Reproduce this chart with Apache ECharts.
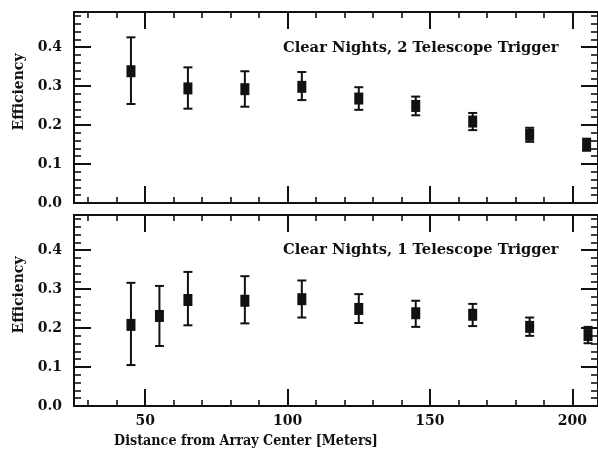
<!DOCTYPE html>
<html>
<head>
<meta charset="utf-8">
<script src="https://cdn.jsdelivr.net/npm/echarts@6/dist/echarts.min.js"></script>
<style>html,body{margin:0;padding:0;background:#fff;}#c{width:598px;height:449px;}</style>
</head>
<body>
<div id="c"></div>
<script>
// ---- data ----
const xTop  = [45, 65, 85, 105, 125, 145, 165, 185, 205];
const yTop  = [0.338, 0.294, 0.292, 0.298, 0.268, 0.249, 0.209, 0.175, 0.149];
const loTop = [0.254, 0.242, 0.247, 0.264, 0.239, 0.225, 0.187, 0.157, 0.134];
const hiTop = [0.425, 0.348, 0.338, 0.336, 0.297, 0.273, 0.231, 0.193, 0.165];

const xBot  = [45, 55, 65, 85, 105, 125, 145, 165, 185, 205.5];
const yBot  = [0.208, 0.231, 0.272, 0.270, 0.274, 0.249, 0.238, 0.234, 0.203, 0.182];
const loBot = [0.105, 0.154, 0.207, 0.212, 0.227, 0.213, 0.203, 0.205, 0.180, 0.161];
const hiBot = [0.316, 0.308, 0.344, 0.333, 0.322, 0.287, 0.270, 0.262, 0.227, 0.203];

const xMajor = [50, 100, 150, 200];
const xMinor = [30, 40, 60, 70, 80, 90, 110, 120, 130, 140, 160, 170, 180, 190];
const yMajor = [0.0, 0.1, 0.2, 0.3, 0.4];
const yMinor = [0.02,0.04,0.06,0.08,0.12,0.14,0.16,0.18,0.22,0.24,0.26,0.28,0.32,0.34,0.36,0.38,0.42,0.44,0.46,0.48];

const titleTop = 'Clear Nights, 2 Telescope Trigger';
const titleBot = 'Clear Nights, 1 Telescope Trigger';
const yName = 'Efficiency';
const xName = 'Distance from Array Center [Meters]';

// ---- chart ----
const FONT = 'DejaVu Serif';
const INK = '#111';
const chart = echarts.init(document.getElementById('c'), null, {renderer: 'canvas'});

const X_MIN = 25, X_MAX = 209, Y_MIN = 0, Y_MAX = 0.49;

function xAx(grid, pos, major, labels) {
  return {
    type: 'value', gridIndex: grid, position: pos, min: X_MIN, max: X_MAX,
    splitLine: {show: false},
    axisLine: {show: true, onZero: false, lineStyle: {color: INK, width: 2}},
    axisTick: {show: true, inside: true, length: major ? 17 : 6,
      customValues: major ? xMajor : xMinor, lineStyle: {color: INK, width: major ? 2 : 1.6}},
    axisLabel: labels ? {show: true, customValues: xMajor, margin: 8,
      color: INK, fontFamily: FONT, fontWeight: 'bold', fontSize: 14,
      formatter: v => String(Math.round(v))} : {show: false}
  };
}
function yAx(grid, pos, major, labels) {
  return {
    type: 'value', gridIndex: grid, position: pos, min: Y_MIN, max: Y_MAX,
    splitLine: {show: false},
    axisLine: {show: true, onZero: false, lineStyle: {color: INK, width: 2}},
    axisTick: {show: true, inside: true, length: major ? 17 : 7,
      customValues: major ? yMajor : yMinor, lineStyle: {color: INK, width: major ? 2 : 1.6}},
    axisLabel: labels ? {show: true, customValues: yMajor, margin: 12,
      color: INK, fontFamily: FONT, fontWeight: 'bold', fontSize: 14,
      formatter: v => v.toFixed(1)} : {show: false}
  };
}

const xAxes = [
  xAx(0, 'bottom', true, false), xAx(0, 'bottom', false, false),
  xAx(0, 'top', true, false),    xAx(0, 'top', false, false),
  xAx(1, 'bottom', true, true),  xAx(1, 'bottom', false, false),
  xAx(1, 'top', true, false),    xAx(1, 'top', false, false)
];
const yAxes = [
  yAx(0, 'left', true, true),   yAx(0, 'left', false, false),
  yAx(0, 'right', true, false), yAx(0, 'right', false, false),
  yAx(1, 'left', true, true),   yAx(1, 'left', false, false),
  yAx(1, 'right', true, false), yAx(1, 'right', false, false)
];

function errData(xs, lo, hi) { return xs.map((x, i) => [x, lo[i], hi[i]]); }
function ptData(xs, ys) { return xs.map((x, i) => [x, ys[i]]); }

function errRender(params, api) {
  const x = api.value(0);
  const p1 = api.coord([x, api.value(1)]);
  const p2 = api.coord([x, api.value(2)]);
  const hw = 4.5;
  const st = {stroke: INK, lineWidth: 2};
  return {type: 'group', children: [
    {type: 'line', shape: {x1: p1[0], y1: p1[1], x2: p2[0], y2: p2[1]}, style: st},
    {type: 'line', shape: {x1: p1[0]-hw, y1: p1[1], x2: p1[0]+hw, y2: p1[1]}, style: st},
    {type: 'line', shape: {x1: p2[0]-hw, y1: p2[1], x2: p2[0]+hw, y2: p2[1]}, style: st}
  ]};
}

const txt = (x, y, t, size, align) => ({
  type: 'text', x: x, y: y, silent: true,
  style: {text: t, fill: INK, font: 'bold ' + size + 'px "' + FONT + '"', textAlign: align || 'left', textVerticalAlign: 'middle'}
});

chart.setOption({
  animation: false,
  backgroundColor: '#fff',
  grid: [
    {left: 74, top: 12, width: 525, height: 191},
    {left: 74, top: 215, width: 525, height: 191}
  ],
  xAxis: xAxes,
  yAxis: yAxes,
  series: [
    {type: 'custom', xAxisIndex: 0, yAxisIndex: 0, renderItem: errRender, data: errData(xTop, loTop, hiTop), z: 2},
    {type: 'scatter', xAxisIndex: 0, yAxisIndex: 0, symbol: 'rect', symbolSize: [9, 12],
      itemStyle: {color: INK, opacity: 1}, data: ptData(xTop, yTop), z: 3},
    {type: 'custom', xAxisIndex: 4, yAxisIndex: 4, renderItem: errRender, data: errData(xBot, loBot, hiBot), z: 2},
    {type: 'scatter', xAxisIndex: 4, yAxisIndex: 4, symbol: 'rect', symbolSize: [9, 12],
      itemStyle: {color: INK, opacity: 1}, data: ptData(xBot, yBot), z: 3}
  ],
  graphic: [
    txt(283, 48, titleTop, 14.7),
    txt(283, 250, titleBot, 14.7),
    Object.assign(txt(19, 92, yName, 14, 'center'), {rotation: Math.PI / 2}),
    Object.assign(txt(19, 295, yName, 14, 'center'), {rotation: Math.PI / 2}),
    Object.assign(txt(246, 441, xName, 15, 'center'), {scaleX: 0.85})
  ]
});
</script>
</body>
</html>
